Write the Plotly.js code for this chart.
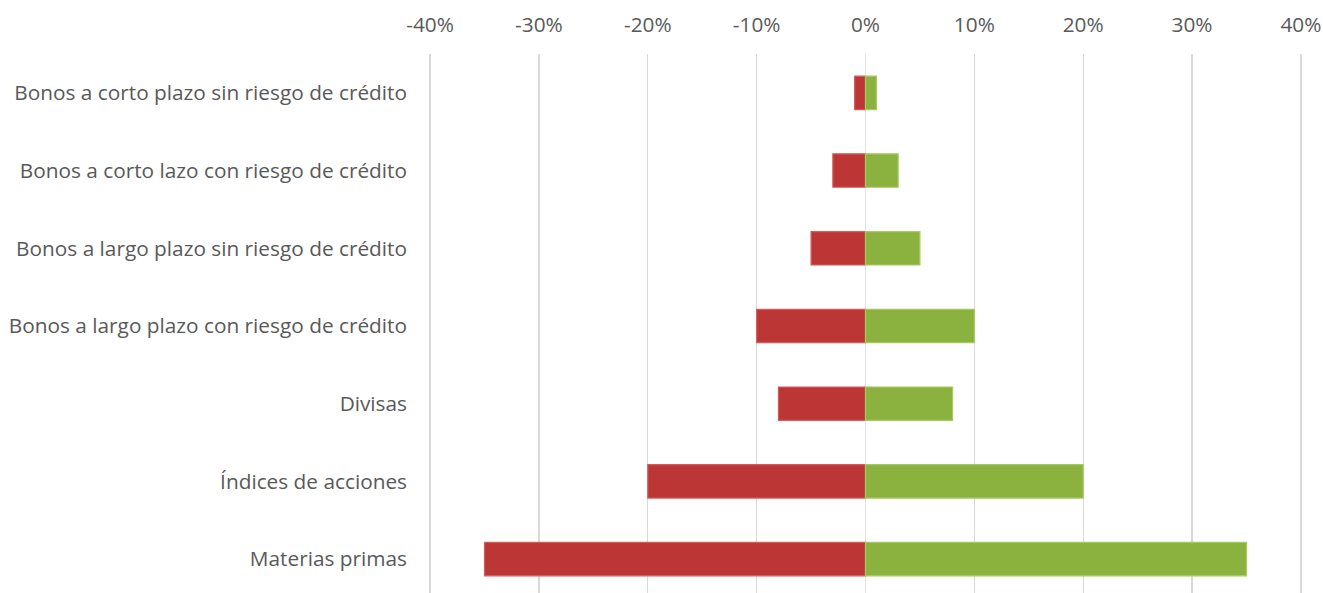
<!DOCTYPE html>
<html>
<head>
<meta charset="utf-8">
<script src="https://cdn.plot.ly/plotly-3.0.1.min.js"></script>
<style>html,body{margin:0;padding:0;background:#fff;}#chart{width:1323px;height:593px;}</style>
</head>
<body>
<div id="chart"></div>
<script>
const categories = [
  "Bonos a corto plazo sin riesgo de crédito",
  "Bonos a corto lazo con riesgo de crédito",
  "Bonos a largo plazo sin riesgo de crédito",
  "Bonos a largo plazo con riesgo de crédito",
  "Divisas",
  "Índices de acciones",
  "Materias primas"
];
const lossValues = [-0.01, -0.03, -0.05, -0.10, -0.08, -0.20, -0.35];
const gainValues = [0.01, 0.03, 0.05, 0.10, 0.08, 0.20, 0.35];
const tickValues = [-0.4, -0.3, -0.2, -0.1, 0, 0.1, 0.2, 0.3, 0.4];
const tickLabels = ["-40%", "-30%", "-20%", "-10%", "0%", "10%", "20%", "30%", "40%"];

const font = "'Open Sans', sans-serif";
const traces = [
  {type: "bar", orientation: "h", y: categories, x: lossValues, width: 0.43,
   marker: {color: "#BC3636", line: {color: "#D65C5C", width: 1.2}}, hoverinfo: "x+y"},
  {type: "bar", orientation: "h", y: categories, x: gainValues, width: 0.43,
   marker: {color: "#8BB23F", line: {color: "#A5CA5F", width: 1.2}}, hoverinfo: "x+y"}
];
const layout = {
  width: 1323, height: 593,
  margin: {l: 429, r: 21, t: 54, b: 0},
  paper_bgcolor: "#fff", plot_bgcolor: "#fff",
  showlegend: false,
  barmode: "relative",
  font: {family: font, color: "#595959", size: 20.8},
  xaxis: {
    side: "top", range: [-0.401, 0.401], tickvals: tickValues, ticktext: tickLabels,
    showgrid: true, gridcolor: "#D9D9D9", gridwidth: 1.3,
    zeroline: true, zerolinecolor: "#E3E3E3", zerolinewidth: 1.5,
    showline: false, ticks: "", ticklabelstandoff: 17,
    tickfont: {family: font, size: 20.8, color: "#595959"}
  },
  yaxis: {
    type: "category", categoryorder: "array", categoryarray: categories,
    range: [6.436, -0.5], showgrid: false, zeroline: false, showline: false,
    ticks: "", ticklabelstandoff: 21,
    tickfont: {family: font, size: 20.8, color: "#595959"}
  }
};
Plotly.newPlot("chart", traces, layout, {displayModeBar: false, staticPlot: true});
</script>
</body>
</html>
